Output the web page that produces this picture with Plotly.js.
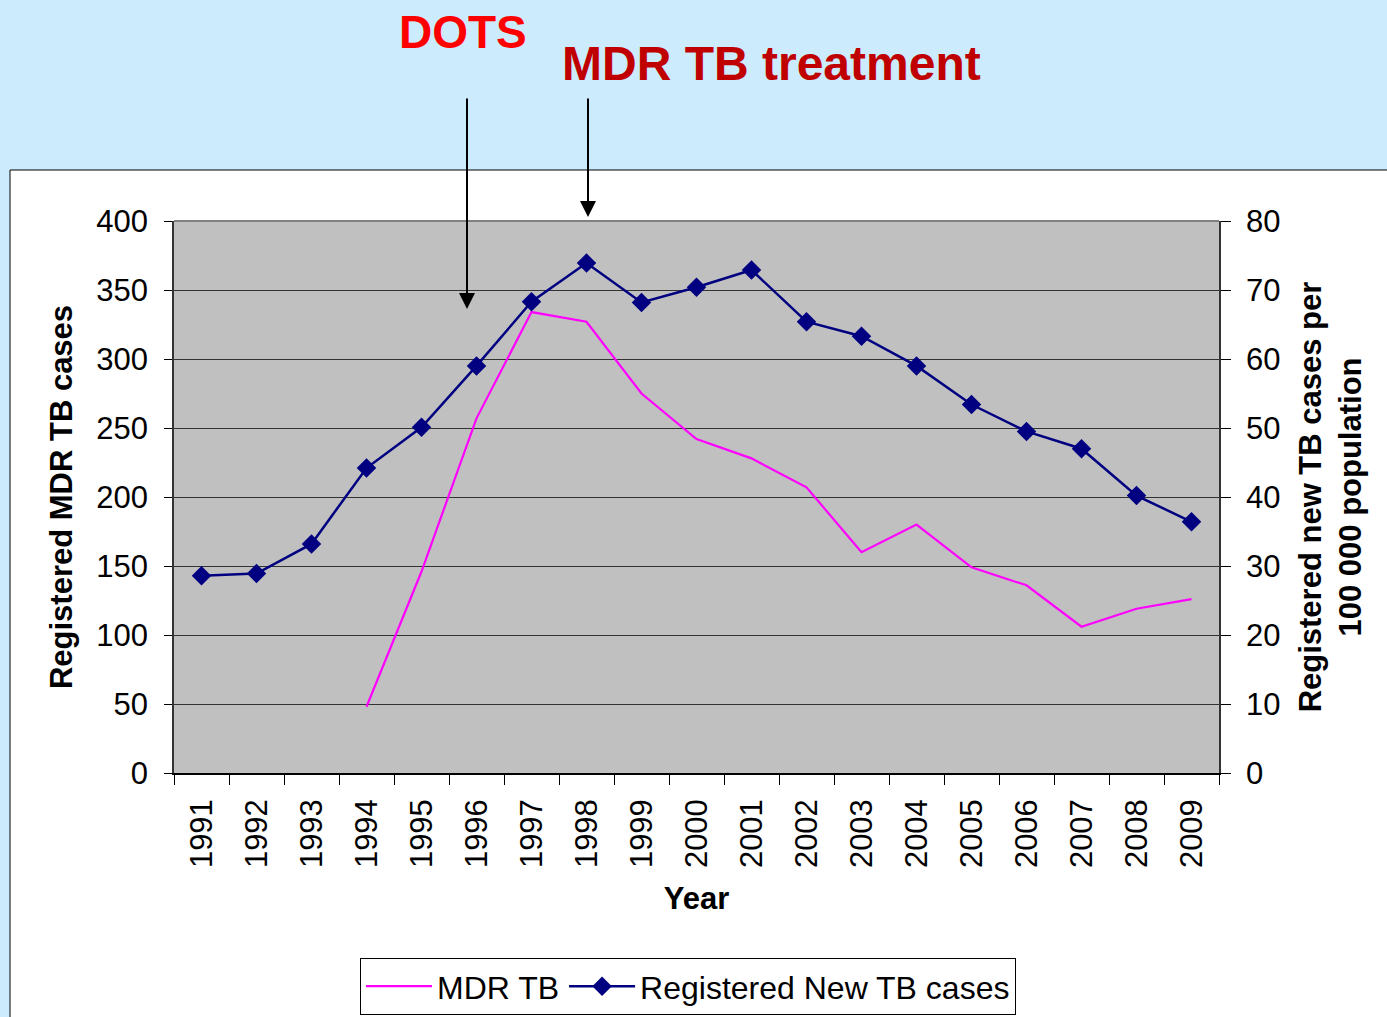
<!DOCTYPE html>
<html>
<head>
<meta charset="utf-8">
<script src="https://cdn.plot.ly/plotly-3.0.1.min.js"></script>
<style>
html,body{margin:0;padding:0;background:#CCEBFD;}
#chart{width:1387px;height:1017px;}
</style>
</head>
<body>
<div id="chart"></div>
<script>
const years = ['1991','1992','1993','1994','1995','1996','1997','1998','1999','2000',
               '2001','2002','2003','2004','2005','2006','2007','2008','2009'];
const mdrYears = ['1994','1995','1996','1997','1998','1999','2000','2001','2002',
                  '2003','2004','2005','2006','2007','2008','2009'];
const mdrTB = [48, 146, 257, 334, 327, 275, 242, 228, 207, 160, 180, 149, 136, 106, 119, 126];
const newTB = [28.6, 28.9, 33.2, 44.2, 50.1, 59.0, 68.3, 73.9, 68.2, 70.4,
               72.9, 65.4, 63.3, 59.0, 53.4, 49.5, 47.0, 40.2, 36.4];
const leftTicks = [0, 50, 100, 150, 200, 250, 300, 350, 400];
const rightTicks = [0, 10, 20, 30, 40, 50, 60, 70, 80];

const FONT = 'Liberation Sans, Arial, sans-serif';

const traces = [
  {
    x: mdrYears, y: mdrTB, name: 'MDR TB', type: 'scatter', mode: 'lines',
    line: {color: '#FF00FF', width: 2.2}, yaxis: 'y'
  },
  {
    x: years, y: newTB, name: 'Registered New TB cases', type: 'scatter', mode: 'lines+markers',
    line: {color: '#000080', width: 2.5},
    marker: {symbol: 'diamond', size: 15, color: '#000080'},
    yaxis: 'y2'
  }
];

const layout = {
  width: 1387, height: 1017,
  margin: {l: 174, r: 168, t: 221, b: 244, autoexpand: false},
  paper_bgcolor: '#CCEBFD',
  plot_bgcolor: '#C0C0C0',
  font: {family: FONT, color: '#000000', size: 31},
  showlegend: true,
  legend: {
    orientation: 'h', x: 0.178, xanchor: 'left', y: -0.335, yanchor: 'top',
    bgcolor: '#FFFFFF', bordercolor: '#000000', borderwidth: 1,
    font: {family: FONT, size: 32}, itemwidth: 66,
    tracegroupgap: 0
  },
  xaxis: {
    type: 'category', categoryorder: 'array', categoryarray: years,
    tickson: 'boundaries', ticks: 'outside', ticklen: 10, tickcolor: '#000',
    showline: true, linecolor: '#000', linewidth: 1.5, showgrid: false,
    tickangle: -90, tickfont: {size: 31}, ticklabelstandoff: 12,
    range: [-0.5, 18.5], automargin: false,
    title: {text: '<b>Year</b>', font: {size: 31}, standoff: 20}
  },
  yaxis: {
    range: [0, 400], tickvals: leftTicks, ticktext: leftTicks.map(String),
    ticks: 'outside', ticklen: 8, tickcolor: '#000', ticklabelstandoff: 10,
    showline: true, linecolor: '#333', linewidth: 1.5,
    showgrid: true, gridcolor: '#333', gridwidth: 1, zeroline: false,
    tickfont: {size: 31}, automargin: false,
    title: {text: '<b>Registered MDR TB cases</b>', font: {size: 31}, standoff: 14}
  },
  yaxis2: {
    range: [0, 80], tickvals: rightTicks, ticktext: rightTicks.map(String),
    overlaying: 'y', side: 'right',
    ticks: 'outside', ticklen: 10, tickcolor: '#000', ticklabelstandoff: 9,
    showline: true, linecolor: '#333', linewidth: 1.5,
    showgrid: false, zeroline: false,
    tickfont: {size: 31}, automargin: false,
    title: {text: '<b>Registered new TB cases per<br>100 000 population</b>', font: {size: 31}, standoff: 20}
  },
  yaxis3: {
    range: [0, 80], tickvals: rightTicks, overlaying: 'y', side: 'right',
    ticks: 'inside', ticklen: 10, tickcolor: '#000', showticklabels: false,
    showline: false, showgrid: false, zeroline: false, automargin: false
  },
  shapes: [
    {type: 'rect', xref: 'paper', yref: 'paper', layer: 'below',
     x0: (10 - 174) / 1045, x1: 1.3, y0: -0.6, y1: (773 - 170) / 552,
     fillcolor: '#FFFFFF', line: {color: '#000000', width: 1}},
    {type: 'rect', xref: 'paper', yref: 'paper', layer: 'below',
     x0: 0, x1: 1, y0: 0, y1: 1, fillcolor: '#C0C0C0', line: {width: 0}},
    {type: 'line', xref: 'paper', yref: 'paper', layer: 'above',
     x0: 0, x1: 1, y0: 1, y1: 1, line: {color: '#808080', width: 2}}
  ],
  annotations: [
    {text: '<b>DOTS</b>', xref: 'paper', yref: 'paper',
     x: (463 - 174) / 1045, y: (773 - 32) / 552, xanchor: 'center', yanchor: 'middle',
     showarrow: false, font: {family: FONT, size: 46, color: '#FF0000'}},
    {text: '<b>MDR TB treatment</b>', xref: 'paper', yref: 'paper',
     x: (771 - 174) / 1045, y: (773 - 63) / 552, xanchor: 'center', yanchor: 'middle',
     showarrow: false, font: {family: FONT, size: 48, color: '#C00000'}},
    {text: '', xref: 'paper', yref: 'paper',
     x: (467 - 174) / 1045, y: (773 - 309) / 552, ax: 0, ay: -212,
     showarrow: true, arrowhead: 2, arrowsize: 1.6, arrowwidth: 2, arrowcolor: '#000'},
    {text: '', xref: 'paper', yref: 'paper',
     x: (588 - 174) / 1045, y: (773 - 217) / 552, ax: 0, ay: -120,
     showarrow: true, arrowhead: 2, arrowsize: 1.6, arrowwidth: 2, arrowcolor: '#000'}
  ]
};

Plotly.newPlot('chart', traces, layout, {displayModeBar: false, responsive: false});
</script>
</body>
</html>
